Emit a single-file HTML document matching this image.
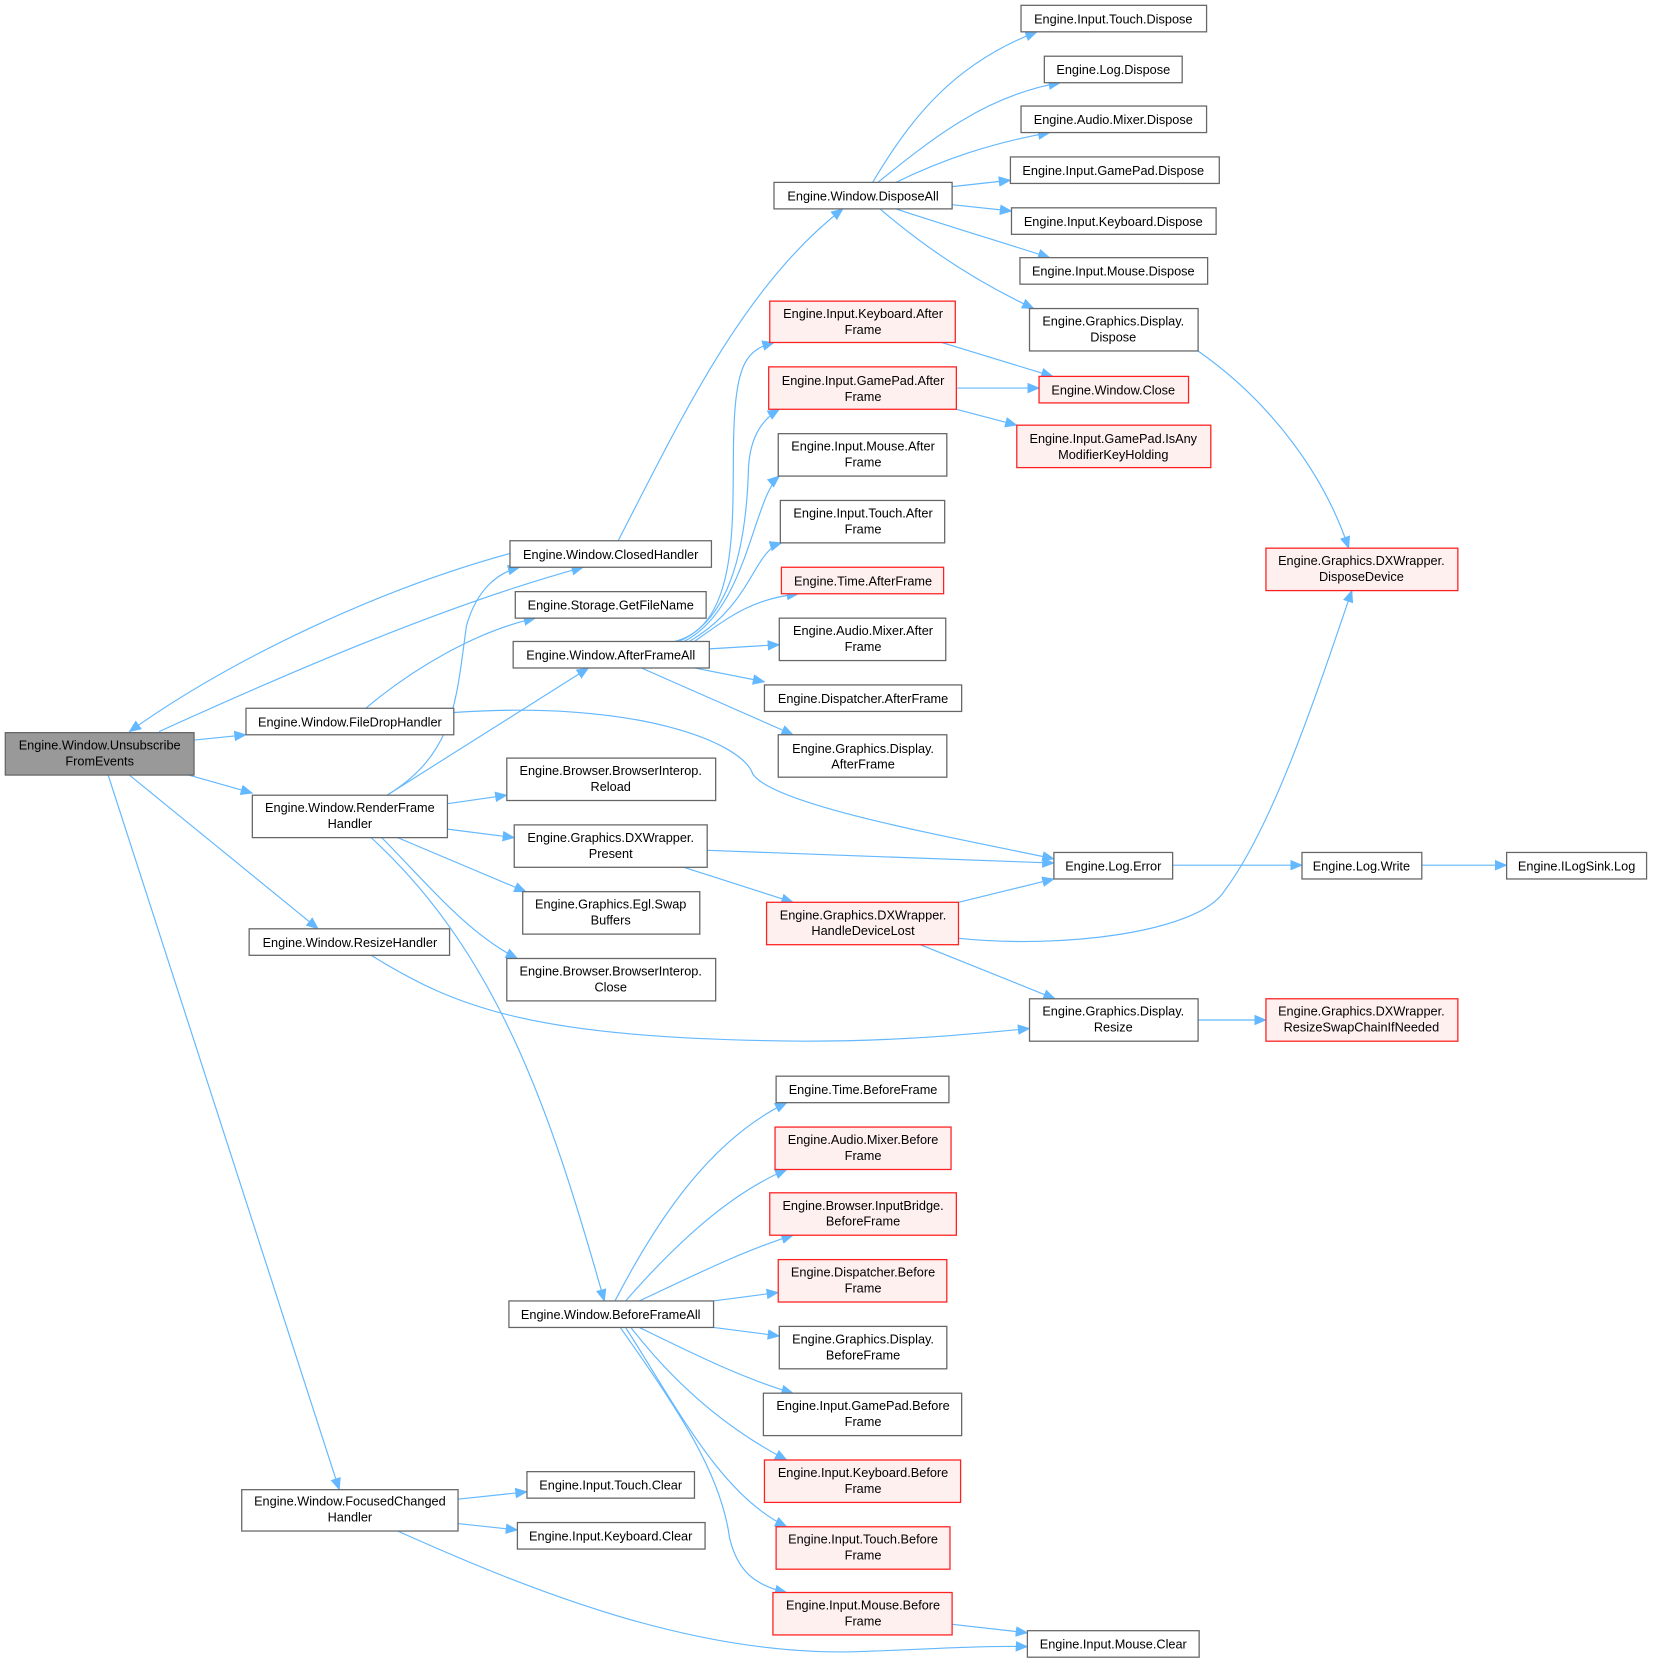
<!DOCTYPE html>
<html><head><meta charset="utf-8"><style>
html,body{margin:0;padding:0;background:#fff;}
svg text{font-family:"Liberation Sans",Arial,sans-serif;font-size:12px;fill:#000;text-anchor:middle;}
.n{fill:#fff;stroke:#666;stroke-width:1.2}
.r{fill:#fff0f0;stroke:#ff2020;stroke-width:1.2}
.g{fill:#999;stroke:#666;stroke-width:1.2}
.e{fill:none;stroke:#63b8ff;stroke-width:1.1;marker-end:url(#a)}
</style></head><body>
<svg width="1654" height="1664" viewBox="0 0 1560 1569.4" xmlns="http://www.w3.org/2000/svg">
<defs><marker id="a" markerWidth="12" markerHeight="10" refX="11" refY="5" orient="auto" markerUnits="userSpaceOnUse"><path d="M0,0 L12,5 L0,10 z" fill="#63b8ff"/></marker></defs>
<g>
<path class="e" d="M150,690 C260,640 420,570 550,535"/>
<path class="e" d="M481,522 C360,555 220,620 122,690"/>
<path class="e" d="M183,698 L232,693"/>
<path class="e" d="M178,731 L238,748"/>
<path class="e" d="M122,731 L300,876"/>
<path class="e" d="M102,731 L320,1405"/>
<path class="e" d="M583,510 C640,400 700,270 795,197"/>
<path class="e" d="M345,668 C390,630 450,595 505,583"/>
<path class="e" d="M428,672 C600,660 700,700 710,730 C730,760 900,790 994,810"/>
<path class="e" d="M365,750 C430,710 430,660 440,590 C450,555 470,540 490,535"/>
<path class="e" d="M365,750 L555,630"/>
<path class="e" d="M422,758 L478,750"/>
<path class="e" d="M422,782 L485,790"/>
<path class="e" d="M375,790 L496,841"/>
<path class="e" d="M360,790 C400,830 440,880 488,904"/>
<path class="e" d="M350,790 C470,900 520,1050 570,1227"/>
<path class="e" d="M350,901 C430,950 500,980 760,982 C850,982 920,975 971,970"/>
<path class="e" d="M636,605 C700,590 690,480 692,410 C694,340 705,330 730,323"/>
<path class="e" d="M640,605 C700,580 705,480 706,440 C708,410 720,395 735,386"/>
<path class="e" d="M645,605 C705,575 710,470 735,449"/>
<path class="e" d="M650,605 C710,570 710,520 737,512"/>
<path class="e" d="M655,605 C690,580 710,565 753,560"/>
<path class="e" d="M669,612 L735,608"/>
<path class="e" d="M655,630 L721,643"/>
<path class="e" d="M605,630 L748,693"/>
<path class="e" d="M823,172 C860,110 900,60 978,30"/>
<path class="e" d="M828,172 C880,130 930,90 1000,78"/>
<path class="e" d="M845,172 C890,150 935,135 990,125"/>
<path class="e" d="M898,176 L953,170"/>
<path class="e" d="M898,193 L954,199"/>
<path class="e" d="M845,197 C900,215 950,230 990,243"/>
<path class="e" d="M830,197 C880,240 930,270 975,291"/>
<path class="e" d="M888,323 L993,355"/>
<path class="e" d="M902,366 L980,366"/>
<path class="e" d="M902,386 L959,401"/>
<path class="e" d="M1130,331 C1200,380 1250,450 1272,517"/>
<path class="e" d="M667,802 L994,814"/>
<path class="e" d="M645,818 L748,851"/>
<path class="e" d="M904,851 L994,829"/>
<path class="e" d="M904,885 C1000,895 1130,880 1155,840 C1200,780 1240,660 1275,557"/>
<path class="e" d="M868,891 L995,942"/>
<path class="e" d="M1106,816 L1228,816"/>
<path class="e" d="M1341,816 L1421,816"/>
<path class="e" d="M1130,962 L1194,962"/>
<path class="e" d="M580,1227 C620,1150 670,1075 742,1040"/>
<path class="e" d="M590,1227 C640,1170 690,1125 742,1103"/>
<path class="e" d="M603,1227 C650,1205 700,1180 748,1165"/>
<path class="e" d="M673,1227 L734,1219"/>
<path class="e" d="M673,1252 L735,1260"/>
<path class="e" d="M603,1252 C650,1275 700,1300 748,1314"/>
<path class="e" d="M595,1252 C640,1310 690,1350 742,1377"/>
<path class="e" d="M590,1252 C640,1330 680,1410 742,1440"/>
<path class="e" d="M585,1252 C640,1330 680,1390 688,1450 C695,1480 710,1495 742,1502"/>
<path class="e" d="M432,1414 L497,1407"/>
<path class="e" d="M432,1437 L488,1443"/>
<path class="e" d="M898,1532 L969,1540"/>
<path class="e" d="M375,1444 C500,1500 650,1560 800,1558 C870,1556 920,1552 969,1553"/>
</g>
<g>
<rect class="g" x="5" y="691" width="178" height="40"/><text x="94" y="707">Engine.Window.Unsubscribe</text><text x="94" y="722">FromEvents</text>
<rect class="n" x="481" y="510" width="190" height="25"/><text x="576" y="527">Engine.Window.ClosedHandler</text>
<rect class="n" x="486" y="558" width="180" height="25"/><text x="576" y="575">Engine.Storage.GetFileName</text>
<rect class="n" x="484" y="605" width="185" height="25"/><text x="576" y="622">Engine.Window.AfterFrameAll</text>
<rect class="n" x="232" y="668" width="196" height="25"/><text x="330" y="685">Engine.Window.FileDropHandler</text>
<rect class="n" x="238" y="750" width="184" height="40"/><text x="330" y="766">Engine.Window.RenderFrame</text><text x="330" y="781">Handler</text>
<rect class="n" x="235" y="876" width="189" height="25"/><text x="330" y="893">Engine.Window.ResizeHandler</text>
<rect class="n" x="228" y="1405" width="204" height="39"/><text x="330" y="1420">Engine.Window.FocusedChanged</text><text x="330" y="1435">Handler</text>
<rect class="n" x="478" y="715" width="197" height="40"/><text x="576" y="731">Engine.Browser.BrowserInterop.</text><text x="576" y="746">Reload</text>
<rect class="n" x="485" y="778" width="182" height="40"/><text x="576" y="794">Engine.Graphics.DXWrapper.</text><text x="576" y="809">Present</text>
<rect class="n" x="493" y="841" width="167" height="40"/><text x="576" y="857">Engine.Graphics.Egl.Swap</text><text x="576" y="872">Buffers</text>
<rect class="n" x="478" y="904" width="197" height="40"/><text x="576" y="920">Engine.Browser.BrowserInterop.</text><text x="576" y="935">Close</text>
<rect class="n" x="480" y="1227" width="193" height="25"/><text x="576" y="1244">Engine.Window.BeforeFrameAll</text>
<rect class="n" x="497" y="1388" width="158" height="25"/><text x="576" y="1405">Engine.Input.Touch.Clear</text>
<rect class="n" x="488" y="1436" width="177" height="25"/><text x="576" y="1453">Engine.Input.Keyboard.Clear</text>
<rect class="n" x="730" y="172" width="168" height="25"/><text x="814" y="189">Engine.Window.DisposeAll</text>
<rect class="r" x="726" y="284" width="175" height="39"/><text x="814" y="300">Engine.Input.Keyboard.After</text><text x="814" y="315">Frame</text>
<rect class="r" x="725" y="346" width="177" height="40"/><text x="814" y="363">Engine.Input.GamePad.After</text><text x="814" y="378">Frame</text>
<rect class="n" x="734" y="409" width="159" height="40"/><text x="814" y="425">Engine.Input.Mouse.After</text><text x="814" y="440">Frame</text>
<rect class="n" x="736" y="472" width="155" height="40"/><text x="814" y="488">Engine.Input.Touch.After</text><text x="814" y="503">Frame</text>
<rect class="r" x="737" y="535" width="153" height="25"/><text x="814" y="552">Engine.Time.AfterFrame</text>
<rect class="n" x="735" y="583" width="157" height="40"/><text x="814" y="599">Engine.Audio.Mixer.After</text><text x="814" y="614">Frame</text>
<rect class="n" x="721" y="646" width="186" height="25"/><text x="814" y="663">Engine.Dispatcher.AfterFrame</text>
<rect class="n" x="734" y="693" width="159" height="40"/><text x="814" y="710">Engine.Graphics.Display.</text><text x="814" y="725">AfterFrame</text>
<rect class="r" x="723" y="851" width="181" height="40"/><text x="814" y="867">Engine.Graphics.DXWrapper.</text><text x="814" y="882">HandleDeviceLost</text>
<rect class="n" x="732" y="1015" width="163" height="25"/><text x="814" y="1032">Engine.Time.BeforeFrame</text>
<rect class="r" x="731" y="1063" width="166" height="40"/><text x="814" y="1079">Engine.Audio.Mixer.Before</text><text x="814" y="1094">Frame</text>
<rect class="r" x="726" y="1125" width="176" height="40"/><text x="814" y="1141">Engine.Browser.InputBridge.</text><text x="814" y="1156">BeforeFrame</text>
<rect class="r" x="734" y="1188" width="159" height="40"/><text x="814" y="1204">Engine.Dispatcher.Before</text><text x="814" y="1219">Frame</text>
<rect class="n" x="735" y="1251" width="158" height="40"/><text x="814" y="1267">Engine.Graphics.Display.</text><text x="814" y="1282">BeforeFrame</text>
<rect class="n" x="720" y="1314" width="187" height="40"/><text x="814" y="1330">Engine.Input.GamePad.Before</text><text x="814" y="1345">Frame</text>
<rect class="r" x="721" y="1377" width="185" height="40"/><text x="814" y="1393">Engine.Input.Keyboard.Before</text><text x="814" y="1408">Frame</text>
<rect class="r" x="732" y="1440" width="164" height="40"/><text x="814" y="1456">Engine.Input.Touch.Before</text><text x="814" y="1471">Frame</text>
<rect class="r" x="729" y="1502" width="169" height="40"/><text x="814" y="1518">Engine.Input.Mouse.Before</text><text x="814" y="1533">Frame</text>
<rect class="n" x="963" y="5" width="175" height="25"/><text x="1050" y="22">Engine.Input.Touch.Dispose</text>
<rect class="n" x="985" y="53" width="130" height="25"/><text x="1050" y="70">Engine.Log.Dispose</text>
<rect class="n" x="963" y="100" width="175" height="25"/><text x="1050" y="117">Engine.Audio.Mixer.Dispose</text>
<rect class="n" x="953" y="148" width="197" height="25"/><text x="1050" y="165">Engine.Input.GamePad.Dispose</text>
<rect class="n" x="954" y="196" width="193" height="25"/><text x="1050" y="213">Engine.Input.Keyboard.Dispose</text>
<rect class="n" x="962" y="243" width="177" height="25"/><text x="1050" y="260">Engine.Input.Mouse.Dispose</text>
<rect class="n" x="971" y="291" width="159" height="40"/><text x="1050" y="307">Engine.Graphics.Display.</text><text x="1050" y="322">Dispose</text>
<rect class="r" x="980" y="355" width="141" height="25"/><text x="1050" y="372">Engine.Window.Close</text>
<rect class="r" x="959" y="401" width="183" height="40"/><text x="1050" y="418">Engine.Input.GamePad.IsAny</text><text x="1050" y="433">ModifierKeyHolding</text>
<rect class="n" x="994" y="804" width="112" height="25"/><text x="1050" y="821">Engine.Log.Error</text>
<rect class="n" x="971" y="942" width="159" height="40"/><text x="1050" y="958">Engine.Graphics.Display.</text><text x="1050" y="973">Resize</text>
<rect class="n" x="969" y="1538" width="162" height="25"/><text x="1050" y="1555">Engine.Input.Mouse.Clear</text>
<rect class="r" x="1194" y="517" width="181" height="40"/><text x="1284" y="533">Engine.Graphics.DXWrapper.</text><text x="1284" y="548">DisposeDevice</text>
<rect class="r" x="1194" y="942" width="181" height="40"/><text x="1284" y="958">Engine.Graphics.DXWrapper.</text><text x="1284" y="973">ResizeSwapChainIfNeeded</text>
<rect class="n" x="1228" y="804" width="113" height="25"/><text x="1284" y="821">Engine.Log.Write</text>
<rect class="n" x="1421" y="804" width="132" height="25"/><text x="1487" y="821">Engine.ILogSink.Log</text>
</g>
</svg>
</body></html>
